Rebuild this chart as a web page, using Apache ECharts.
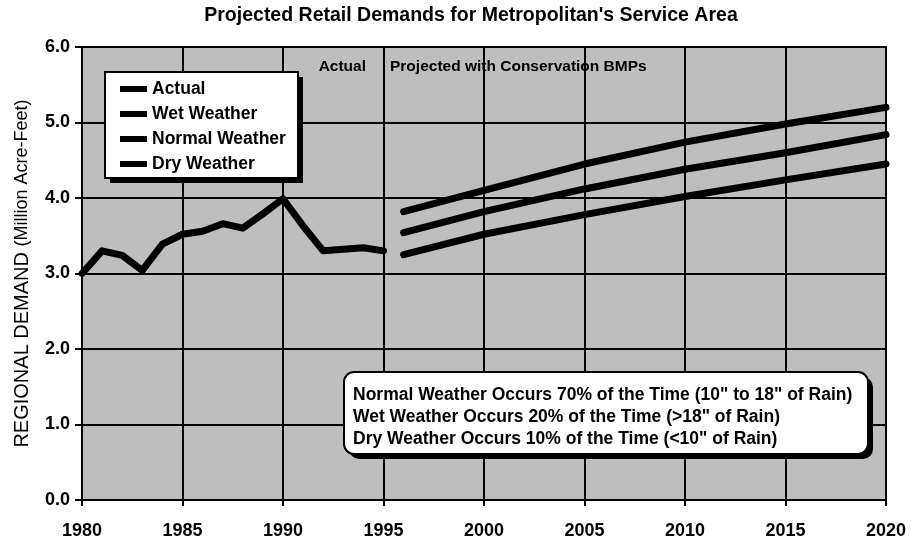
<!DOCTYPE html>
<html>
<head>
<meta charset="utf-8">
<script src="https://cdn.jsdelivr.net/npm/echarts@6/dist/echarts.min.js"></script>
<style>
html,body{margin:0;padding:0;background:#fff;}
#chart{width:911px;height:550px;}
</style>
</head>
<body>
<div id="chart"></div>
<script>
// ---- data ----
const actualYears = [1980,1981,1982,1983,1984,1985,1986,1987,1988,1989,1990,1991,1992,1993,1994,1995];
const actualValues = [3.00,3.30,3.24,3.04,3.39,3.52,3.56,3.66,3.60,3.79,3.99,3.63,3.30,3.32,3.34,3.30];
const projYears = [1996,2000,2005,2010,2015,2020];
const wetValues = [3.82,4.10,4.45,4.74,4.98,5.20];
const normalValues = [3.54,3.82,4.12,4.38,4.60,4.84];
const dryValues = [3.25,3.52,3.78,4.02,4.24,4.45];
const seriesNames = ['Actual','Wet Weather','Normal Weather','Dry Weather'];
const titleText = "Projected Retail Demands for Metropolitan's Service Area";
const noteLines = [
  'Normal Weather Occurs 70% of the Time (10" to 18" of Rain)',
  'Wet Weather Occurs 20% of the Time (>18" of Rain)',
  'Dry Weather Occurs 10% of the Time (<10" of Rain)'
];

const pair = (xs, ys) => xs.map((x, i) => [x, ys[i]]);
const FONT = 'Liberation Sans, Arial, sans-serif';

const chart = echarts.init(document.getElementById('chart'), null, {renderer: 'canvas'});
const lineStyle = {color: '#000', width: 7, cap: 'round', join: 'round'};
const mk = (name, data) => ({
  name, type: 'line', data, showSymbol: false, symbol: 'none',
  lineStyle, itemStyle: {color: '#000'}, animation: false, z: 5
});

chart.setOption({
  animation: false,
  backgroundColor: '#fff',
  grid: {left: 82, right: 25, top: 47, bottom: 50, show: true, backgroundColor: '#bebebe', borderColor: '#000', borderWidth: 2},
  xAxis: {
    type: 'value', min: 1980, max: 2020, interval: 5,
    axisLine: {show: true, lineStyle: {color: '#000', width: 2}},
    axisTick: {show: true, length: 6, lineStyle: {color: '#000', width: 2}},
    axisLabel: {color: '#000', fontFamily: FONT, fontSize: 18, fontWeight: 'bold', margin: 22, formatter: v => String(v)},
    splitLine: {show: true, lineStyle: {color: '#000', width: 2}}
  },
  yAxis: {
    type: 'value', min: 0, max: 6, interval: 1,
    name: '{a|REGIONAL DEMAND }{b|(Million Acre-Feet)}',
    nameLocation: 'middle', nameGap: 50, nameRotate: 90,
    nameTextStyle: {rich: {
      a: {fontFamily: FONT, fontSize: 20, color: '#000'},
      b: {fontFamily: FONT, fontSize: 18, color: '#000'}
    }},
    axisLine: {show: true, lineStyle: {color: '#000', width: 2}},
    axisTick: {show: true, length: 7, lineStyle: {color: '#000', width: 2}},
    axisLabel: {color: '#000', fontFamily: FONT, fontSize: 18, fontWeight: 'bold', margin: 12, formatter: v => v.toFixed(1)},
    splitLine: {show: true, lineStyle: {color: '#000', width: 2}}
  },
  legend: {
    data: seriesNames.map(n => ({name: n, icon: 'rect'})),
    orient: 'vertical', left: 120, top: 80, padding: 0,
    itemWidth: 27, itemHeight: 6, itemGap: 7,
    textStyle: {color: '#000', fontFamily: FONT, fontSize: 17.5, fontWeight: 'bold'},
    selectedMode: false, z: 20
  },
  series: [
    mk(seriesNames[0], pair(actualYears, actualValues)),
    mk(seriesNames[1], pair(projYears, wetValues)),
    mk(seriesNames[2], pair(projYears, normalValues)),
    mk(seriesNames[3], pair(projYears, dryValues))
  ],
  graphic: [
    {type: 'text', x: 471, y: 16, style: {text: titleText, fill: '#000', font: 'bold 19.5px ' + FONT, align: 'center', verticalAlign: 'middle'}},
    {type: 'text', x: 366, y: 67, z: 10, style: {text: 'Actual', fill: '#000', font: 'bold 15.5px ' + FONT, align: 'right', verticalAlign: 'middle'}},
    {type: 'text', x: 390, y: 67, z: 10, style: {text: 'Projected with Conservation BMPs', fill: '#000', font: 'bold 15.5px ' + FONT, align: 'left', verticalAlign: 'middle'}},
    // legend box (shadow + frame)
    {type: 'rect', x: 110, y: 77, z: 9, shape: {width: 193, height: 106}, style: {fill: '#000'}},
    {type: 'rect', x: 105, y: 72, z: 10, shape: {width: 193, height: 106}, style: {fill: '#fff', stroke: '#000', lineWidth: 2}},
    // note box (shadow + frame)
    {type: 'rect', x: 349, y: 377, z: 9, shape: {width: 524, height: 82, r: 10}, style: {fill: '#000'}},
    {type: 'rect', x: 344, y: 372, z: 10, shape: {width: 524, height: 82, r: 10}, style: {fill: '#fff', stroke: '#000', lineWidth: 2}},
    {type: 'text', x: 353, y: 395, z: 11, style: {text: noteLines[0], fill: '#000', font: 'bold 17.5px ' + FONT, verticalAlign: 'middle'}},
    {type: 'text', x: 353, y: 417, z: 11, style: {text: noteLines[1], fill: '#000', font: 'bold 17.5px ' + FONT, verticalAlign: 'middle'}},
    {type: 'text', x: 353, y: 439, z: 11, style: {text: noteLines[2], fill: '#000', font: 'bold 17.5px ' + FONT, verticalAlign: 'middle'}}
  ]
});
</script>
</body>
</html>
